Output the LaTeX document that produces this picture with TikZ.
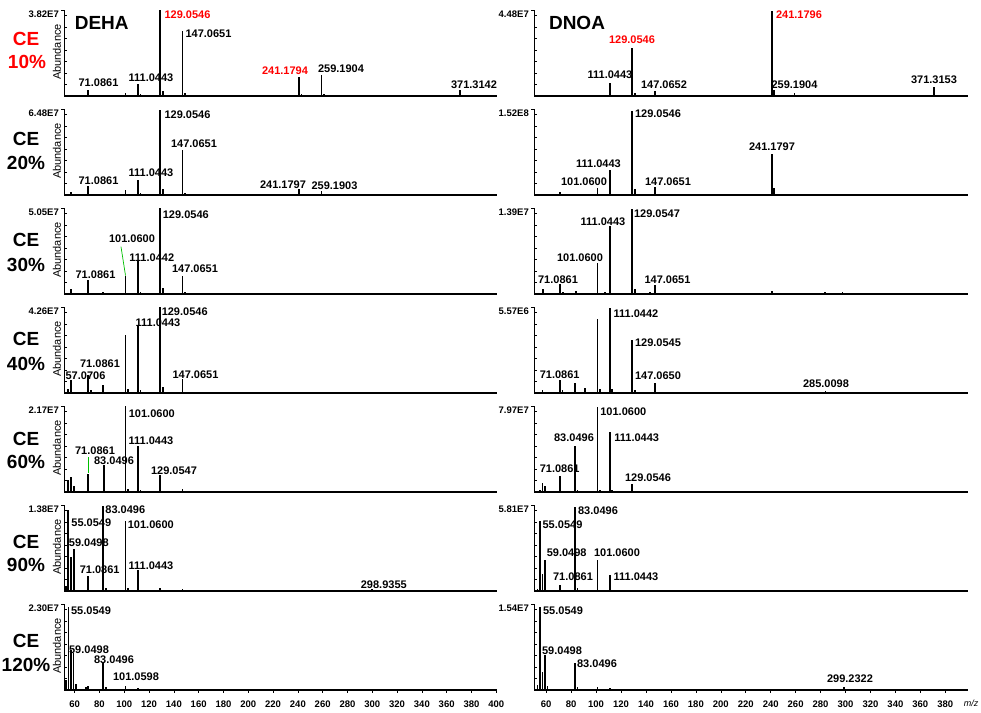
\documentclass[tikz,border=0pt]{standalone}
\usepackage{fontspec}
\setmainfont{Liberation Sans}
\tikzset{
 pk/.style={line width=1.7pt, line cap=butt},
 basel/.style={line width=2pt},
 yax/.style={line width=0.9pt},
 lbl/.style={font=\bfseries\fontsize{11}{11}\selectfont, inner sep=0pt},
 ylab/.style={font=\bfseries\fontsize{9.5}{9.5}\selectfont, inner sep=0pt, anchor=east},
 celab/.style={font=\bfseries\fontsize{19}{19}\selectfont, inner sep=0pt},
 abund/.style={font=\fontsize{11}{11}\selectfont, inner sep=0pt, rotate=90},
 tlab/.style={font=\bfseries\fontsize{9.5}{9.5}\selectfont, inner sep=0pt},
 guide/.style={draw=green!75!black, line width=0.7pt},
}
\newcommand\Frame[3]{%
 \pgfmathsetmacro\By{-96-99*#1}%
 \draw[yax] (#2,\By) -- (#2,\By+86);
 \draw[yax] (#2-3,\By+86) -- (#2,\By+86);
 \foreach \k in {1,...,7}{\draw[line width=0.6pt] (#2,\By+\k*11.5) -- ++(2.5,0);}
 \draw[basel] (#2,\By) -- (#3,\By);
}
\newcommand\LP[2]{\foreach \m/\h in {#2}{\draw[pk] ({1.24*\m+0.26},{-96-99*#1}) -- ++(0,\h);}}
\newcommand\RP[2]{\foreach \m/\h in {#2}{\draw[pk] ({1.247*\m+471.4},{-96-99*#1}) -- ++(0,\h);}}
\newcommand\Lab[2]{\foreach \x/\y/\t [count=\i] in {#2}{\node[lbl] (#1-\i) at (\x,-\y) {\t};}}
\begin{document}
\begin{tikzpicture}[x=1pt,y=1pt]
\useasboundingbox (0,0) rectangle (981,-712);
\fill[white] (0,0) rectangle (981,-712);
% frames
\foreach \r in {0,...,6}{\Frame{\r}{64}{497}\Frame{\r}{534}{968}}
% y-axis top values
\foreach \r/\v in {0/3.82E7,1/6.48E7,2/5.05E7,3/4.26E7,4/2.17E7,5/1.38E7,6/2.30E7}{\node[ylab] (yL\r) at (59,{-96-99*\r+82}) {\v};}
\foreach \r/\v in {0/4.48E7,1/1.52E8,2/1.39E7,3/5.57E6,4/7.97E7,5/5.81E7,6/1.54E7}{\node[ylab] (yR\r) at (529,{-96-99*\r+82}) {\v};}
% Abundance
\foreach \r in {0,...,6}{\node[abund] (ab\r) at (57,{-96-99*\r+44}) {Abundance};}
% CE labels
\node[celab, text=red] (ce0) at (26,-39.3) {CE};
\node[celab, text=red] (pc0) at (27,-61.7) {10\%};
\foreach \r/\a/\b/\p in {1/139.3/163.3/20,2/240/265/30,3/339.3/364/40,4/439.3/461.7/60,5/542.3/565/90,6/641/665/120}{
 \node[celab] (ce\r) at (26,-\a) {CE};
 \node[celab] (pc\r) at (26,-\b) {\p\%};}
\node[celab] (deha) at (101.7,-22.7) {DEHA};
\node[celab] (dnoa) at (577,-22.7) {DNOA};
% ---- row 0
\LP{0}{57/1.5,71/6,84/1,101/3,111/12,113/2,129/86,131/5,147/65,149/3,241/18.7,243/2,259/21,261/2,371/6}
\Lab{L0}{187.5/15/{\textcolor{red}{129.0546}},208.5/34/147.0651,285/70.7/{\textcolor{red}{241.1794}},341/68.3/259.1904,151/77.3/111.0443,98.5/82.7/71.0861,474/85/371.3142}
\RP{0}{57.7/1,84.4/1,100.5/1,107/1,111/12.7,129/48.3,131/3,147/5,241/85,242.5/6,259/3,298/1,371/9}
\Lab{R0}{799/15/{\textcolor{red}{241.1796}},632/39.3/{\textcolor{red}{129.0546}},610/75/111.0443,664/85/147.0652,794.5/85/259.1904,934/79.3/371.3153}
% ---- row 1
\LP{1}{57/2.7,71/9.3,101/4.7,111/15.3,113/2,129/85.3,131/6,147/45.3,149/2,241/6,259/4.3}
\Lab{L1}{187.5/115/129.0546,194/143.3/147.0651,151/172.7/111.0443,98.5/180.7/71.0861,283/185/241.1797,334.5/186/259.1903}
\RP{1}{71/2.7,101/6.7,111/25,129/84.3,131/6,147/7.7,241/41,242.5/7}
\Lab{R1}{658/114/129.0546,772/146.7/241.1797,598.5/164/111.0443,584/181.7/101.0600,668/181.7/147.0651}
% ---- row 2
\LP{2}{57/5,71/13.7,83/2.3,101/17.7,111/33.3,113/2,129/86,131/6,147/18.3,149/2}
\Lab{L2}{185.8/215/129.0546,132/238.3/101.0600,151.8/257.3/111.0442,195/268.3/147.0651,95.5/275/71.0861}
\coordinate (g1a) at (121,-246.7);
\coordinate (g1b) at (125.5,-275.5);
\draw[guide] (g1a) -- (g1b);
\RP{2}{57.2/5,71/10,73.2/2,83.6/3.3,101/31,107/2,111/67.7,129/85,131/5,143/2,147/9.3,201.7/1.5,240.8/3,283.5/2.3,297.7/2.3,315.6/1}
\Lab{R2}{657/214/129.0547,603/221.7/111.0443,580/257.3/101.0600,558/279.3/71.0861,667.5/279.3/147.0651}
% ---- row 3
\LP{3}{54.9/3.7,57/12.7,71/18.3,73/3,83/7.7,101/58.3,103/4,111/66.7,113/3,129/86,131/6,147/13.7}
\Lab{L3}{184.7/311.7/129.0546,158/322.7/111.0443,100/363.3/71.0861,85.5/376/57.0706,195.5/375/147.0651}
\RP{3}{57/3.3,71/12.7,73/3.3,83.3/10,91.3/5,101/74,103/4,111.3/85,113/4,129/53.3,131/3,147/10,284/2.3}
\Lab{R3}{636/313.3/111.0442,658/342.7/129.0545,559.7/375/71.0861,658/375.7/147.0650,826/384/285.0098}
% ---- row 4
\LP{4}{54.9/11.7,57/15,59.5/6,71/18.3,83.7/26.7,101/86,103/3,111/46,113/2,129/16.7,147/2.7}
\Lab{L4}{151.8/414/101.0600,151/440.7/111.0443,95/450.7/71.0861,114/461/83.0496,174/470.7/129.0547}
\coordinate (g2a) at (88.3,-457.3);
\coordinate (g2b) at (88.3,-472.7);
\draw[guide] (g2a) -- (g2b);
\RP{4}{53/1.5,55/2.3,57/9,59/6.3,71/16.3,83/46.3,85/2,101/85,103/2,111/60,113/2,129/8}
\Lab{R4}{623.3/411.7/101.0600,574/437.3/83.0496,636.7/437.3/111.0443,559.7/468.3/71.0861,648/477.7/129.0546}
% ---- row 5
\LP{5}{53/5,54.9/81,57/34.3,59.5/41.7,71/15,83.1/85,85/3,101/70,103/3,111/21,129/3.3,147/1.7,299.6/2.3,317.5/1,377/1.5}
\Lab{L5}{125.3/510/83.0496,91.3/522.7/55.0549,150.8/525/101.0600,88.8/542.3/59.0498,99.7/570/71.0861,151/565.7/111.0443,383.8/585/298.9355}
\RP{5}{53/2.3,55/70,57/17.3,59/30.7,66.5/1,71/5.7,83.3/84,85/3,101/30.7,111/15.7,129/1,298/1}
\Lab{R5}{598/510.7/83.0496,562.5/525/55.0549,566.7/552.7/59.0498,617/552.7/101.0600,573/576.7/71.0861,636/576.7/111.0443}
% ---- row 6
\LP{6}{53/10,55/83,57/40,59/37,61/6,69/3,71/4,83/27,85/3,101/4,111/2}
\Lab{L6}{91/611/55.0549,89/650/59.0498,114/660/83.0496,136/677/101.0598}
\RP{6}{53/5,55/83,57/18,59/35,61/4,83/27,85/3,101/3,111/2,129/1.5,147/1.5,160/1,185/1,213/1,241/1.5,270/1,299/3,330/1,355/1}
\Lab{R6}{563/611/55.0549,562/651/59.0498,597/664/83.0496,850/679/299.2322}
% bottom axis ticks and labels
\foreach \m in {60,80,...,400}{\draw[line width=0.6pt] ({1.24*\m+0.26},-690) -- ++(0,-3);
 \node[tlab] (tl\m) at ({1.24*\m+0.26},-704) {\m};}
\foreach \m in {60,80,...,380}{\draw[line width=0.6pt] ({1.247*\m+471.4},-690) -- ++(0,-3);
 \node[tlab] (tr\m) at ({1.247*\m+471.4},-704) {\m};}
\node[font=\itshape\fontsize{9}{9}\selectfont, inner sep=0pt] (mz) at (971,-703) {m/z};
\end{tikzpicture}
\end{document}
